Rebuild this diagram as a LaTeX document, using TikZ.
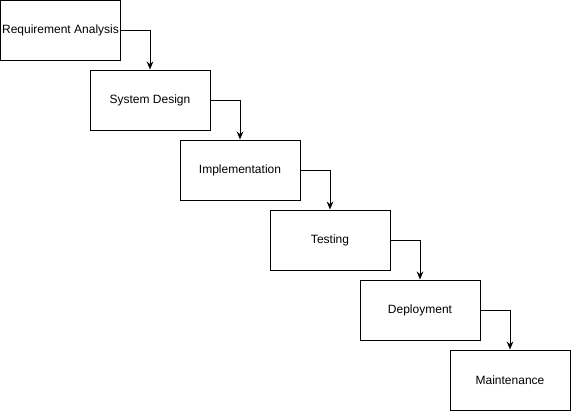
\documentclass[tikz,border=0pt]{standalone}
\usepackage{fontspec}
\setmainfont{Liberation Sans}
\usetikzlibrary{arrows.meta}
\tikzset{
  stage/.style = {draw, line width=0.75pt, minimum width=90pt, minimum height=45pt,
                  inner sep=0pt, align=center, font=\fontsize{9}{11}\selectfont},
  ar/.style    = {-{Stealth[length=6pt,width=5pt]}, line width=0.75pt},
}
\begin{document}
\begin{tikzpicture}[x=0.75pt, y=-0.75pt]
\useasboundingbox (0,0) rectangle (571,411);

% --- waterfall stages ---
\node[stage] (req)  at (60.5,30.5)  {Requirement Analysis};
\node[stage] (sys)  at (150,100)    {System Design};
\node[stage] (impl) at (240,170)    {Implementation};
\node[stage] (test) at (330,240)    {Testing};
\node[stage] (dep)  at (420,310)    {Deployment};
\node[stage] (mnt)  at (510,380)    {Maintenance};

\draw[ar] (req.east)  -| (sys.north);
\draw[ar] (sys.east)  -| (impl.north);
\draw[ar] (impl.east) -| (test.north);
\draw[ar] (test.east) -| (dep.north);
\draw[ar] (dep.east)  -| (mnt.north);
\end{tikzpicture}
\end{document}
